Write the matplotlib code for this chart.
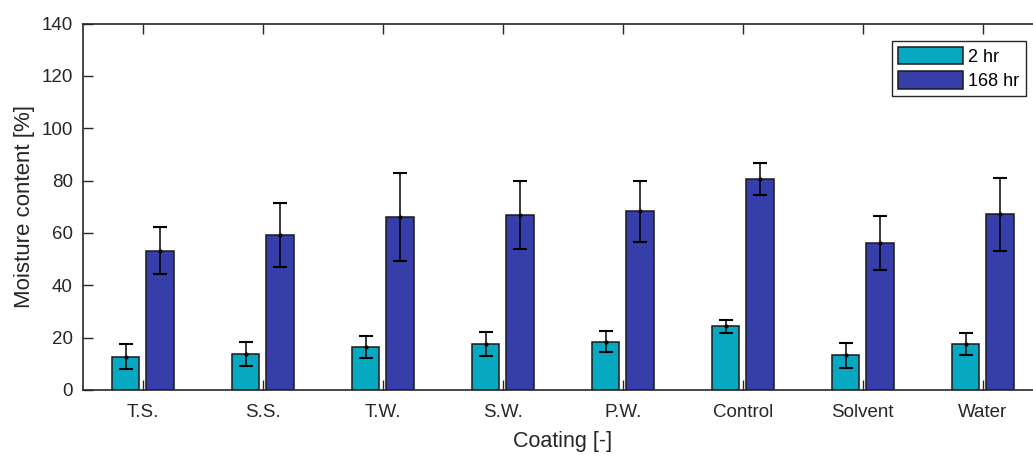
import numpy as np
import matplotlib
matplotlib.use("Agg")
import matplotlib.pyplot as plt

plt.rcParams['font.family'] = ['Liberation Sans', 'DejaVu Sans']

coatings = ['T.S.', 'S.S.', 'T.W.', 'S.W.', 'P.W.', 'Control', 'Solvent', 'Water']
mc_2hr = [12.7, 13.7, 16.5, 17.6, 18.4, 24.3, 13.2, 17.4]
err_2hr = [4.8, 4.6, 4.1, 4.5, 4.0, 2.6, 4.9, 4.2]
mc_168hr = [53.2, 59.1, 66.1, 66.8, 68.3, 80.5, 56.2, 67.1]
err_168hr = [8.9, 12.3, 16.9, 12.9, 11.6, 6.2, 10.4, 13.9]

c_2hr = '#07a9c2'
c_168hr = '#363eaa'
dark = '#262626'

W, H = 1033, 455
fig = plt.figure(figsize=(W / 100, H / 100), dpi=100)
# axes runs past the right edge of the figure, as in the reference
ax = fig.add_axes([82.7 / W, (H - 390) / H, 960 / W, (390 - 23.5) / H])

x = np.arange(1, len(coatings) + 1)
off = 0.142
bw = 0.23

ax.bar(x - off, mc_2hr, bw, color=c_2hr, edgecolor='#1a1a1a', linewidth=1.1, label='2 hr', zorder=2)
ax.bar(x + off, mc_168hr, bw, color=c_168hr, edgecolor='#1a1a1a', linewidth=1.1, label='168 hr', zorder=2)
ax.errorbar(x - off, mc_2hr, yerr=err_2hr, fmt='.', color='k', ms=4, elinewidth=1.1,
            capsize=4.7, capthick=1.5, zorder=3)
ax.errorbar(x + off, mc_168hr, yerr=err_168hr, fmt='.', color='k', ms=4, elinewidth=1.1,
            capsize=4.7, capthick=1.5, zorder=3)

ax.set_xlim(0.5, 8.5)
ax.set_ylim(0, 140)
ax.set_yticks(np.arange(0, 141, 20))
ax.set_xticks(x)
ax.set_xticklabels(coatings)

for s in ax.spines.values():
    s.set_color(dark)
    s.set_linewidth(1.2)
ax.tick_params(direction='in', length=7.2, width=1.0, color=dark, labelcolor=dark,
               top=True, right=True, labelsize=13.5)
ax.tick_params(axis='y', pad=7)
ax.tick_params(axis='x', pad=10)

ax.set_ylabel('Moisture content [%]', fontsize=16, color=dark, labelpad=5)
ax.set_xlabel('Coating [-]', fontsize=15.5, color=dark, labelpad=7)

leg = ax.legend(loc='upper right', bbox_to_anchor=(1025.7 / W, 1 - 40.7 / H),
                bbox_transform=fig.transFigure, borderaxespad=0, fancybox=False,
                edgecolor=dark, fontsize=13, handlelength=3.6, handleheight=1.1,
                labelspacing=0.3, handletextpad=0.3, borderpad=0.35, framealpha=1)
leg.get_frame().set_linewidth(1.0)

fig.savefig('out.png', dpi=100)
